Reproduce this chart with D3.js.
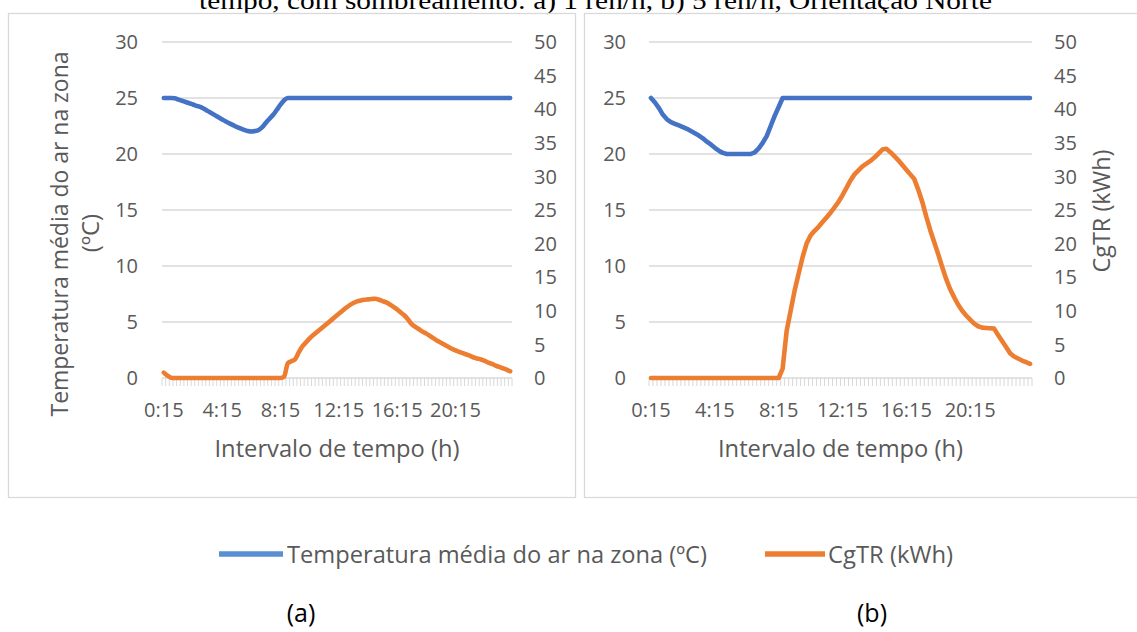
<!DOCTYPE html>
<html><head><meta charset="utf-8">
<script src="https://cdn.jsdelivr.net/npm/d3@7"></script>
<style>body{margin:0;background:#fff;overflow:hidden} svg{display:block}</style>
</head><body>
<svg id="c" width="1137" height="632"></svg>
<script>
const times = ["0:15","0:30","0:45","1:00","1:15","1:30","1:45","2:00","2:15","2:30","2:45","3:00","3:15","3:30","3:45","4:00","4:15","4:30","4:45","5:00","5:15","5:30","5:45","6:00","6:15","6:30","6:45","7:00","7:15","7:30","7:45","8:00","8:15","8:30","8:45","9:00","9:15","9:30","9:45","10:00","10:15","10:30","10:45","11:00","11:15","11:30","11:45","12:00","12:15","12:30","12:45","13:00","13:15","13:30","13:45","14:00","14:15","14:30","14:45","15:00","15:15","15:30","15:45","16:00","16:15","16:30","16:45","17:00","17:15","17:30","17:45","18:00","18:15","18:30","18:45","19:00","19:15","19:30","19:45","20:00","20:15","20:30","20:45","21:00","21:15","21:30","21:45","22:00","22:15","22:30","22:45","23:00","23:15","23:30","23:45","24:00"];
const xTickLabels = ["0:15","4:15","8:15","12:15","16:15","20:15"];
const tempTicks = [0,5,10,15,20,25,30];
const energyTicks = [0,5,10,15,20,25,30,35,40,45,50];

// (a) 1 ren/h
const tempA = [25,25,25,24.98,24.86,24.75,24.64,24.53,24.42,24.3,24.2,24.04,23.85,23.66,23.47,23.28,23.09,22.9,22.74,22.58,22.42,22.28,22.15,22.05,22.01,22.05,22.15,22.4,22.8,23.15,23.5,23.95,24.4,24.8,25,
25,25,25,25,25,25,25,25,25,25,25,25,25,25,25,25,25,25,25,25,25,25,25,25,25,25,25,25,25,25,25,25,25,25,25,25,25,25,25,25,25,25,25,25,25,25,25,25,25,25,25,25,25,25,25,25,25,25,25,25,25,25];
const cgtrA = [0.8,0.35,0.05,0,0,0,0,0,0,0,0,0,0,0,0,0,0,0,0,0,0,0,0,0,0,0,0,0,0,0,0,0,0,
0.2,2.2,2.5,2.8,3.8,4.7,5.3,5.9,6.4,6.85,7.3,7.75,8.2,8.65,9.1,9.55,10.0,10.45,10.85,11.15,11.4,11.55,11.65,11.7,11.75,11.8,11.65,11.45,11.25,10.95,10.6,10.2,9.75,9.3,8.7,8.0,7.6,7.25,6.9,6.6,6.25,5.9,5.55,5.25,4.95,4.65,4.35,4.1,3.9,3.7,3.5,3.3,3.05,2.9,2.75,2.55,2.3,2.1,1.85,1.65,1.45,1.25,1.0];

// (b) 5 ren/h
const tempB = [25,24.6,24.1,23.5,23.1,22.85,22.7,22.55,22.4,22.25,22.05,21.85,21.65,21.4,21.1,20.85,20.55,20.3,20.1,20,20,20,20,20,20,20,20.15,20.5,21.0,21.6,22.5,23.4,24.2,25,
25,25,25,25,25,25,25,25,25,25,25,25,25,25,25,25,25,25,25,25,25,25,25,25,25,25,25,25,25,25,25,25,25,25,25,25,25,25,25,25,25,25,25,25,25,25,25,25,25,25,25,25,25,25,25,25,25,25,25,25,25,25];
const cgtrB = [0,0,0,0,0,0,0,0,0,0,0,0,0,0,0,0,0,0,0,0,0,0,0,0,0,0,0,0,0,0,0,0,0,
1.4,7.0,10.0,13.0,15.5,18.0,20.0,21.2,21.9,22.5,23.2,23.9,24.6,25.4,26.2,27.2,28.3,29.4,30.3,30.9,31.5,31.9,32.3,32.8,33.4,34.0,34.1,33.6,33.0,32.4,31.7,31.0,30.3,29.6,28.0,26.2,24.0,22.0,20.2,18.4,16.5,14.7,13.2,12.0,10.9,10.0,9.3,8.7,8.1,7.7,7.5,7.45,7.4,7.35,6.4,5.5,4.6,3.7,3.2,2.9,2.6,2.35,2.1];

const titleText = "tempo, com sombreamento: a) 1 ren/h, b) 5 ren/h, Orientação Norte";
const seriesNames = ["Temperatura média do ar na zona (ºC)", "CgTR (kWh)"];

const BLUE = "#4472C4", ORANGE = "#ED7D31", GRID = "#D9D9D9", TXT = "#595959";
const FONT = "'Open Sans', sans-serif";
const svg = d3.select("#c");

// title (its top is cut by the page edge, as in the reference)
svg.append("text").attr("x",199).attr("y",8.5)
  .attr("font-family","'Liberation Serif', 'Times New Roman', serif").attr("font-size",25)
  .attr("textLength",793).attr("lengthAdjust","spacingAndGlyphs")
  .attr("fill","#000").text(titleText);

// panel borders
svg.append("rect").attr("x",8.5).attr("y",13.5).attr("width",567).attr("height",484)
  .attr("fill","none").attr("stroke",GRID).attr("stroke-width",1.3);
svg.append("rect").attr("x",584.5).attr("y",13.5).attr("width",560).attr("height",484)
  .attr("fill","none").attr("stroke",GRID).attr("stroke-width",1.3);

function drawPanel(o) {
  const g = svg.append("g");
  const x = d3.scaleBand().domain(times).range([o.x0, o.x1]);
  const yT = d3.scaleLinear().domain([0,30]).range([378,42]);
  const yE = d3.scaleLinear().domain([0,50]).range([378,42]);
  const cx = d => x(d) + x.bandwidth()/2;

  g.selectAll(".grid").data(tempTicks).join("line")
    .attr("x1",o.x0).attr("x2",o.x1)
    .attr("y1",d=>yT(d)).attr("y2",d=>yT(d))
    .attr("stroke",GRID).attr("stroke-width",1.3);

  // category boundary tick marks
  g.selectAll(".mt").data(times).join("line")
    .attr("x1",d=>x(d)).attr("x2",d=>x(d)).attr("y1",378).attr("y2",386)
    .attr("stroke",GRID).attr("stroke-width",1);
  g.append("line").attr("x1",o.x1).attr("x2",o.x1).attr("y1",378).attr("y2",386)
    .attr("stroke",GRID).attr("stroke-width",1);

  // left axis labels
  g.selectAll(".yl").data(tempTicks).join("text")
    .attr("x",o.leftLabelX).attr("y",d=>yT(d)).attr("dy","0.36em")
    .attr("text-anchor","end").attr("font-family",FONT).attr("font-size",20)
    .attr("fill",TXT).text(d=>d);
  // right axis labels
  g.selectAll(".yr").data(energyTicks).join("text")
    .attr("x",o.rightLabelX).attr("y",d=>yE(d)).attr("dy","0.36em")
    .attr("text-anchor","start").attr("font-family",FONT).attr("font-size",20)
    .attr("fill",TXT).text(d=>d);
  // x labels
  g.selectAll(".xl").data(xTickLabels).join("text")
    .attr("x",d=>cx(d)).attr("y",416.5)
    .attr("text-anchor","middle").attr("font-family",FONT).attr("font-size",20)
    .attr("fill",TXT).text(d=>d);
  // x title
  g.append("text").attr("x",(o.x0+o.x1)/2).attr("y",457)
    .attr("text-anchor","middle").attr("font-family",FONT).attr("font-size",24)
    .attr("textLength",245).attr("lengthAdjust","spacingAndGlyphs")
    .attr("fill",TXT).text("Intervalo de tempo (h)");

  const lineT = d3.line().x((d,i)=>cx(times[i])).y(d=>yT(d)).curve(o.curve);
  const lineE = d3.line().x((d,i)=>cx(times[i])).y(d=>yE(d)).curve(o.curve);
  g.append("path").datum(o.temp).attr("d",lineT).attr("fill","none")
    .attr("stroke",BLUE).attr("stroke-width",4.6).attr("stroke-linecap","round").attr("stroke-linejoin","round");
  g.append("path").datum(o.cgtr).attr("d",lineE).attr("fill","none")
    .attr("stroke",ORANGE).attr("stroke-width",4.6).attr("stroke-linecap","round").attr("stroke-linejoin","round");
}

drawPanel({x0:162, x1:512, leftLabelX:138, rightLabelX:534, temp:tempA, cgtr:cgtrA, curve:d3.curveMonotoneX});
drawPanel({x0:649, x1:1032, leftLabelX:626, rightLabelX:1054, temp:tempB, cgtr:cgtrB, curve:d3.curveLinear});

// y-axis titles
svg.append("text").attr("transform","translate(68,234) rotate(-90)")
  .attr("text-anchor","middle").attr("font-family",FONT).attr("font-size",24)
  .attr("textLength",365).attr("lengthAdjust","spacingAndGlyphs")
  .attr("fill",TXT).text("Temperatura média do ar na zona");
svg.append("text").attr("transform","translate(99,233) rotate(-90)")
  .attr("text-anchor","middle").attr("font-family",FONT).attr("font-size",24)
  .attr("fill",TXT).text("(ºC)");
svg.append("text").attr("transform","translate(1110,211) rotate(-90)")
  .attr("text-anchor","middle").attr("font-family",FONT).attr("font-size",24)
  .attr("textLength",123).attr("lengthAdjust","spacingAndGlyphs")
  .attr("fill",TXT).text("CgTR (kWh)");

// legend
const legend = [
  {name: seriesNames[0], color: "#5B8FD4", x1: 219, x2: 283, tx: 287, tl: 420},
  {name: seriesNames[1], color: ORANGE, x1: 765, x2: 825, tx: 828, tl: 125}
];
const lg = svg.append("g");
lg.selectAll("line").data(legend).join("line")
  .attr("x1",d=>d.x1).attr("x2",d=>d.x2).attr("y1",554).attr("y2",554)
  .attr("stroke",d=>d.color).attr("stroke-width",5.5);
lg.selectAll("text").data(legend).join("text")
  .attr("x",d=>d.tx).attr("y",562.5).attr("font-family",FONT).attr("font-size",24)
  .attr("textLength",d=>d.tl).attr("lengthAdjust","spacingAndGlyphs")
  .attr("fill",TXT).text(d=>d.name);

// sub-figure labels
const subLabels = [{t:"(a)", x:301}, {t:"(b)", x:872}];
svg.selectAll(".sub").data(subLabels).join("text")
  .attr("x",d=>d.x).attr("y",622).attr("text-anchor","middle")
  .attr("font-family",FONT).attr("font-size",25).attr("fill","#000").text(d=>d.t);
</script>
</body></html>
